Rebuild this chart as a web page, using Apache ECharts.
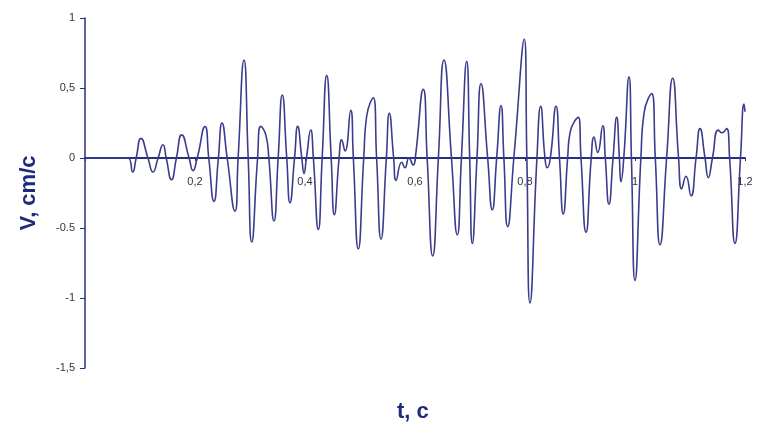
<!DOCTYPE html>
<html>
<head>
<meta charset="utf-8">
<script src="https://cdn.jsdelivr.net/npm/echarts@6/dist/echarts.min.js"></script>
<style>
html,body{margin:0;padding:0;background:#fff;}
#chart{width:758px;height:422px;}
</style>
</head>
<body>
<div id="chart"></div>
<script>
// time, s (extrema and zero crossings)
var tValues = [
  0, 0.078, 0.0867, 0.0930, 0.1018, 0.1144, 0.1236, 0.1329, 0.1418, 0.1477, 0.1573, 0.1662, 0.1758, 0.1892,
  0.1964, 0.2040, 0.2182, 0.2250, 0.2345, 0.2425, 0.2491, 0.2585, 0.2727, 0.2784, 0.2891, 0.2967, 0.3031,
  0.3138, 0.3195, 0.3291, 0.3342, 0.3436, 0.3512, 0.3587, 0.3668, 0.3727, 0.3810, 0.3867, 0.3942, 0.3982,
  0.4026, 0.4104, 0.4152, 0.4242, 0.4312, 0.4395, 0.4476, 0.4533, 0.4620, 0.4667, 0.4727, 0.4831, 0.4879,
  0.4969, 0.5068, 0.5122, 0.5242, 0.5302, 0.5382, 0.5479, 0.5533, 0.5612, 0.5655, 0.5758, 0.5818, 0.5891,
  0.5970, 0.6005, 0.6151, 0.6221, 0.6322, 0.6425, 0.6527, 0.6663, 0.6769, 0.6844, 0.6940, 0.6994, 0.7042,
  0.7127, 0.7200, 0.7321, 0.7405, 0.7485, 0.7564, 0.7616, 0.7685, 0.7797, 0.7987, 0.8034, 0.8091, 0.8217,
  0.8285, 0.8363, 0.8405, 0.8461, 0.8564, 0.8627, 0.8696, 0.8775, 0.8818, 0.8969, 0.9018, 0.9109, 0.9204,
  0.9255, 0.9322, 0.9413, 0.9460, 0.9527, 0.9601, 0.9667, 0.9716, 0.9745, 0.9796, 0.9891, 0.9935, 1.0000,
  1.0107, 1.0164, 1.0304, 1.0369, 1.0455, 1.0575, 1.0685, 1.0792, 1.0849, 1.0927, 1.1018, 1.1110, 1.1182,
  1.1273, 1.1333, 1.1408, 1.1515, 1.1582, 1.1667, 1.1720, 1.1818, 1.1918, 1.1982, 1.2];
// velocity, cm/s
var vValues = [
  0, 0, -0.10, 0, 0.14, 0, -0.10, 0, 0.095, 0, -0.155, 0, 0.165, 0,
  -0.09, 0, 0.225, 0, -0.31, 0, 0.25, 0, -0.38, 0, 0.70, 0, -0.60,
  0, 0.226, 0.16, 0, -0.45, 0, 0.45, 0, -0.32, 0, 0.226, 0, -0.11,
  0, 0.20, 0, -0.51, 0, 0.59, 0, -0.405, 0, 0.13, 0.05, 0.34, 0,
  -0.65, 0, 0.30, 0.43, 0, -0.58, 0, 0.32, 0, -0.16, -0.03, -0.07, 0.0,
  -0.05, 0, 0.49, 0, -0.70, 0, 0.70, 0, -0.55, 0, 0.69, 0, -0.61,
  0, 0.53, 0, -0.37, 0, 0.375, 0, -0.49, 0, 0.85, 0, -1.035, 0,
  0.37, 0, -0.07, 0, 0.37, 0, -0.40, 0, 0.18, 0.29, 0, -0.53, 0,
  0.15, 0.04, 0.23, 0, -0.33, 0, 0.29, 0, -0.17, 0, 0.58, 0, -0.875,
  0, 0.32, 0.46, 0, -0.62, 0, 0.57, 0, -0.22, -0.13, -0.27, 0, 0.21,
  0, -0.14, 0, 0.20, 0.18, 0.21, 0, -0.61, 0, 0.385, 0.33];
var xTickLabels = ['', '0,2', '0,4', '0,6', '0,8', '1', '1,2'];
var yTickValues = [1, 0.5, 0, -0.5, -1, -1.5];
var yTickLabels = ['1', '0,5', '0', '-0.5', '-1', '-1,5'];

var data = tValues.map(function (t, i) { return [t, vValues[i]]; });

var Y_MIN = -1.5, Y_MAX = 1;
var GRID_TOP = 18, GRID_BOTTOM = 54, H = 422;
var gridH = H - GRID_TOP - GRID_BOTTOM;
// move the bottom x axis up to the v = 0 level
var zeroOffset = -gridH * (0 - Y_MIN) / (Y_MAX - Y_MIN);

var chart = echarts.init(document.getElementById('chart'));
var navy = '#27307a';
chart.setOption({
  backgroundColor: '#ffffff',
  animation: false,
  title: {
    text: 't, c', left: 392, top: 396,
    textStyle: { color: '#1d2a7d', fontSize: 22, fontWeight: 'bold', fontFamily: 'Liberation Sans' }
  },
  grid: { left: 85, right: 13, top: GRID_TOP, bottom: GRID_BOTTOM },
  xAxis: {
    type: 'value', min: 0, max: 1.2, interval: 0.2,
    position: 'bottom', offset: zeroOffset,
    axisLine: { onZero: false, lineStyle: { color: navy, width: 2 } },
    axisTick: { show: true, length: 3, lineStyle: { color: navy } },
    splitLine: { show: false },
    axisLabel: {
      margin: 18, color: '#333344', fontSize: 11, fontFamily: 'Liberation Sans',
      showMaxLabel: true,
      formatter: function (v) { return xTickLabels[Math.round(v / 0.2)] || ''; }
    }
  },
  yAxis: {
    type: 'value', min: Y_MIN, max: Y_MAX, interval: 0.5,
    axisLine: { show: true, lineStyle: { color: navy, width: 1.5 } },
    axisTick: { show: true, length: 5, lineStyle: { color: navy } },
    splitLine: { show: false },
    axisLabel: {
      margin: 10, color: '#333344', fontSize: 11, fontFamily: 'Liberation Sans',
      formatter: function (v) {
        for (var i = 0; i < yTickValues.length; i++) {
          if (Math.abs(yTickValues[i] - v) < 1e-6) return yTickLabels[i];
        }
        return '';
      }
    },
    name: 'V, cm/c', nameLocation: 'middle', nameGap: 45,
    nameTextStyle: { color: '#1d2a7d', fontSize: 22, fontWeight: 'bold', fontFamily: 'Liberation Sans' }
  },
  series: [{
    type: 'line', data: data, smooth: 0.55, symbol: 'none',
    lineStyle: { color: '#3c3c8e', width: 1.6 }
  }]
});
</script>
</body>
</html>
